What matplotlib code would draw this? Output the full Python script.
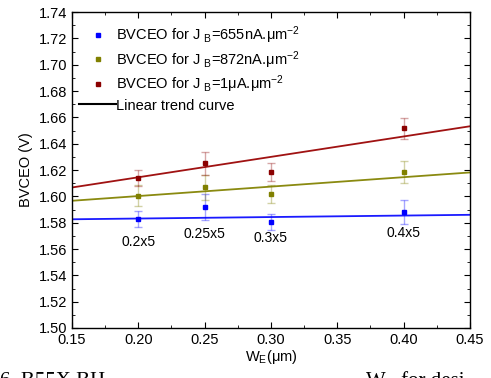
import numpy as np
import matplotlib
matplotlib.use("Agg")
import matplotlib.pyplot as plt
from matplotlib.lines import Line2D
from matplotlib.ticker import MultipleLocator, FormatStrFormatter

plt.rcParams['font.family'] = ['Liberation Sans', 'DejaVu Sans']
plt.rcParams['mathtext.fontset'] = 'custom'
plt.rcParams['mathtext.rm'] = 'Liberation Sans'
plt.rcParams['mathtext.it'] = 'Liberation Sans'

# emitter widths (um)
we = [0.20, 0.25, 0.30, 0.40]

# BVCEO (V) and error bars for each base current density
bv_655 = [1.5828, 1.5917, 1.5805, 1.5883]
err_655 = [0.0058, 0.0100, 0.0058, 0.0091]
bv_872 = [1.6005, 1.6068, 1.6017, 1.6185]
err_872 = [0.0080, 0.0095, 0.0066, 0.0080]
bv_1u = [1.6141, 1.6250, 1.6185, 1.6516]
err_1u = [0.0060, 0.0090, 0.0066, 0.0080]

# linear trend curves (intercept, slope)
trend_655 = (1.5809, 0.0113)
trend_872 = (1.5859, 0.0717)
trend_1u = (1.5835, 0.1550)

# device size labels
size_labels = ['0.2x5', '0.25x5', '0.3x5', '0.4x5']
label_y = [1.5655, 1.5716, 1.5683, 1.5720]

series = [
    (bv_655, err_655, trend_655, '#0000ff', '#1a1aff', r'BVCEO for J $_{\rm B}$=655nA.μm$^{-2}$'),
    (bv_872, err_872, trend_872, '#808000', '#8a8a10', r'BVCEO for J $_{\rm B}$=872nA.μm$^{-2}$'),
    (bv_1u, err_1u, trend_1u, '#8b0000', '#a01212', r'BVCEO for J $_{\rm B}$=1μA.μm$^{-2}$'),
]

fig = plt.figure(figsize=(4.91, 3.78), dpi=100)
ax = fig.add_axes([0.1466, 0.1323, 0.8104, 0.8357])

xs = np.array([0.15, 0.45])
handles = []
for vals, errs, (b0, b1), col, lcol, lab in series:
    ax.plot(xs, b0 + b1 * xs, color=lcol, lw=1.3, zorder=2)
    ax.errorbar(we, vals, yerr=errs, fmt='none', ecolor=col, alpha=0.35,
                elinewidth=1.0, capsize=3, capthick=1.0, zorder=3)
    ax.plot(we, vals, 's', color=col, ms=3, zorder=4)
    handles.append(Line2D([], [], marker='s', color=col, ls='none', ms=3, label=lab))
handles.append(Line2D([], [], color='black', lw=1.5, label='Linear trend curve'))

for x, y, t in zip(we, label_y, size_labels):
    ax.text(x, y, t, ha='center', va='center', fontsize=10)

ax.legend(handles=handles, loc='upper left', frameon=False, fontsize=10.5,
          handlelength=2.5, handletextpad=0.0, labelspacing=0.22,
          borderaxespad=0.1, bbox_to_anchor=(0.0, 0.985))

ax.set_xlim(0.15, 0.45)
ax.set_ylim(1.50, 1.74)
ax.xaxis.set_major_locator(MultipleLocator(0.05))
ax.xaxis.set_minor_locator(MultipleLocator(0.025))
ax.yaxis.set_major_locator(MultipleLocator(0.02))
ax.yaxis.set_minor_locator(MultipleLocator(0.01))
ax.xaxis.set_major_formatter(FormatStrFormatter('%.2f'))
ax.yaxis.set_major_formatter(FormatStrFormatter('%.2f'))
ax.tick_params(which='both', direction='in', top=True, right=True, labelsize=10.5)
ax.tick_params(which='major', length=4)
ax.tick_params(which='minor', length=2)
for s in ax.spines.values():
    s.set_linewidth(1.0)

ax.set_xlabel(r'W$_{\rm E}$(μm)', fontsize=10.5, labelpad=1)
ax.set_ylabel('BVCEO (V)', fontsize=10.5, labelpad=4)

# cut-off caption of the source page (cropped in the reference too)
fig.text(0.0, 0.016, '6. B55X BH', family='Liberation Serif', fontsize=15, va='top')
fig.text(0.745, 0.016, 'W   for desi', family='Liberation Serif', fontsize=15, va='top')

fig.savefig('out.png', dpi=100)
